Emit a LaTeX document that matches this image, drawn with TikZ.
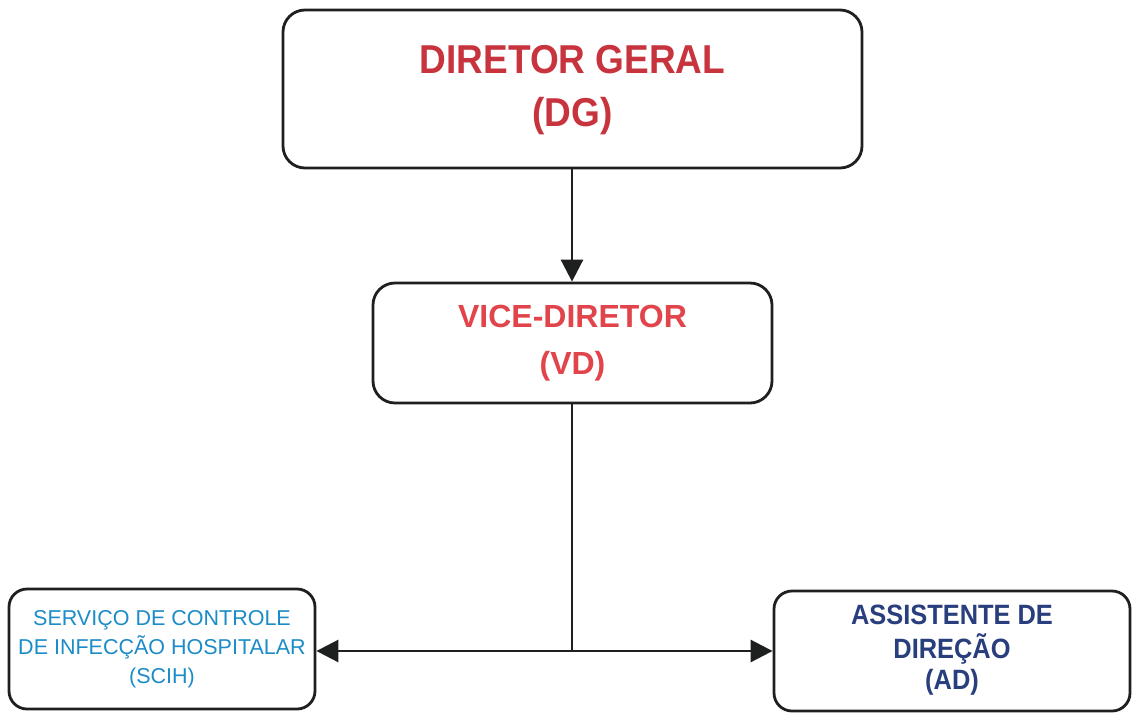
\documentclass[tikz,border=0pt]{standalone}
\usepackage{fontspec}
\setmainfont{Liberation Sans}
\usetikzlibrary{arrows.meta}
\definecolor{dgred}{RGB}{200,52,62}
\definecolor{vdred}{RGB}{226,68,76}
\definecolor{sciblue}{RGB}{28,140,200}
\definecolor{adblue}{RGB}{40,62,125}
\definecolor{linegray}{RGB}{30,32,32}
\newcommand{\stretchlines}[2]{\scalebox{1}[#1]{\begin{tabular}{@{}c@{}}#2\end{tabular}}}
\tikzset{
  box/.style={draw=linegray, line width=2.8pt, rounded corners=22pt, fill=white, align=center, inner sep=0pt},
  conn/.style={draw=linegray, line width=2.8pt},
  tip/.style={-{Triangle[length=22pt,width=22pt]}},
}
\begin{document}
\begin{tikzpicture}[x=1pt,y=-1pt]
\useasboundingbox (0,0) rectangle (1132,716);
\node[box, minimum width=579pt, minimum height=158pt, text=dgred,
  font=\bfseries\fontsize{37}{48.6}\selectfont] (DG) at (572.5,89)
  {\stretchlines{1.09}{DIRETOR GERAL\\(DG)}};
\node[box, minimum width=399pt, minimum height=120pt, text=vdred,
  font=\bfseries\fontsize{32}{47}\selectfont] (VD) at (572.5,343) {VICE-DIRETOR\\(VD)};
\node[box, minimum width=306pt, minimum height=120pt, rounded corners=18pt, text=sciblue,
  font=\fontsize{21.5}{29}\selectfont] (SCIH) at (162,649) {SERVIÇO DE CONTROLE\\DE INFECÇÃO HOSPITALAR\\(SCIH)};
\node[box, minimum width=356pt, minimum height=120pt, rounded corners=18pt, text=adblue,
  font=\bfseries\fontsize{25.4}{27.5}\selectfont] (AD) at (952,651)
  {\stretchlines{1.1}{ASSISTENTE DE\\DIREÇÃO\\(AD)}};
\coordinate (J) at (572,651);
\draw[conn, tip] (DG.south -| J) -- (VD.north -| J);
\draw[conn] (VD.south -| J) -- (J);
\draw[conn, tip] (J) -- (J -| SCIH.east);
\draw[conn, tip] (J) -- (J -| AD.west);
\end{tikzpicture}
\end{document}
